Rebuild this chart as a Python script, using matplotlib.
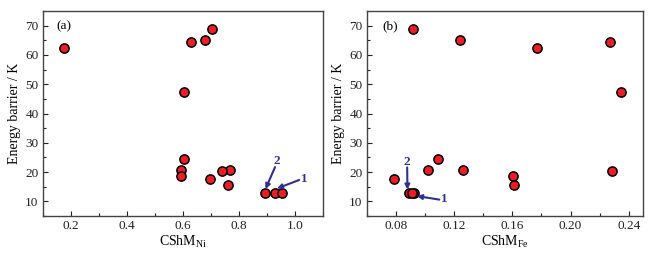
import matplotlib
matplotlib.use("Agg")
import matplotlib.pyplot as plt
from matplotlib.ticker import MultipleLocator

plt.rcParams['font.family'] = ['Liberation Serif', 'DejaVu Serif']

energy = [69.0, 65.1, 64.3, 62.3, 47.5, 24.5, 20.8, 20.6, 20.4, 18.8, 17.5, 15.6, 13.0, 12.8, 12.7]
cshm_ni = [0.703, 0.679, 0.627, 0.176, 0.604, 0.604, 0.594, 0.768, 0.739, 0.594, 0.695, 0.760, 0.892, 0.928, 0.954]
cshm_fe = [0.0917, 0.1239, 0.2273, 0.1772, 0.2345, 0.109, 0.1021, 0.1262, 0.2285, 0.1602, 0.0786, 0.1611, 0.0888, 0.0922, 0.0912]

ni_ticks = [0.2, 0.4, 0.6, 0.8, 1.0]
fe_ticks = [0.08, 0.12, 0.16, 0.20, 0.24]
y_ticks = [10, 20, 30, 40, 50, 60, 70]

W, H = 657, 258
fig = plt.figure(figsize=(W / 100, H / 100), dpi=100)

axA = fig.add_axes([42.7 / W, 1 - 216 / H, (323.3 - 42.7) / W, (216 - 11) / H])
axB = fig.add_axes([366.7 / W, 1 - 216 / H, (643.3 - 366.7) / W, (216 - 11) / H])

arrow_col = '#2e3192'
spine_col = '#444444'

def style(ax, xlim, xticks, xminor, fmt, label, sub, panel, px):
    ax.set_xlim(*xlim)
    ax.set_ylim(5, 75)
    ax.set_xticks(xticks)
    ax.set_xticklabels([fmt.format(t) for t in xticks])
    ax.xaxis.set_minor_locator(MultipleLocator(xminor))
    ax.set_yticks(y_ticks)
    ax.yaxis.set_minor_locator(MultipleLocator(5))
    ax.tick_params(axis='both', which='both', direction='in', top=False, right=False,
                   labelsize=9.5, colors='#222222', pad=3)
    ax.tick_params(which='major', length=3.5, width=0.8)
    ax.tick_params(which='minor', length=2, width=0.8)
    for s in ax.spines.values():
        s.set_color(spine_col)
        s.set_linewidth(1.0)
    ax.set_xlabel(label + r'$_{\mathregular{' + sub + '}}$', fontsize=10, labelpad=1)
    ax.set_ylabel('Energy barrier / K', fontsize=10, labelpad=3)
    ax.text(px, 0.925, panel, transform=ax.transAxes, fontsize=9.5, va='center', ha='left')

style(axA, (0.1, 1.1), ni_ticks, 0.1, '{:.1f}', 'CShM', 'Ni', '(a)', 0.048)
style(axB, (0.06, 0.25), fe_ticks, 0.02, '{:.2f}', 'CShM', 'Fe', '(b)', 0.056)

for ax, xs in ((axA, cshm_ni), (axB, cshm_fe)):
    ax.scatter(xs, energy, s=44, facecolor='#ee1c25', edgecolor='black', linewidth=1.1, zorder=3)

arrowprops = dict(arrowstyle='-|>', color=arrow_col, lw=1.5, mutation_scale=7,
                  shrinkA=0, shrinkB=0)

# Panel (a) annotations
axA.annotate('', xy=(0.894, 14.2), xytext=(0.928, 21.7), arrowprops=arrowprops, zorder=4)
axA.text(0.933, 23.8, '2', color=arrow_col, fontsize=9.5, fontweight='bold', ha='center', va='center')
axA.annotate('', xy=(0.935, 14.4), xytext=(1.014, 17.3), arrowprops=arrowprops, zorder=4)
axA.text(1.032, 17.6, '1', color=arrow_col, fontsize=9.5, fontweight='bold', ha='center', va='center')

# Panel (b) annotations
axB.annotate('', xy=(0.0880, 14.0), xytext=(0.0878, 21.6), arrowprops=arrowprops, zorder=4)
axB.text(0.0878, 23.4, '2', color=arrow_col, fontsize=9.5, fontweight='bold', ha='center', va='center')
axB.annotate('', xy=(0.0945, 11.8), xytext=(0.1099, 10.6), arrowprops=arrowprops, zorder=4)
axB.text(0.1135, 10.75, '1', color=arrow_col, fontsize=9.5, fontweight='bold', ha='center', va='center')

fig.savefig('out.png', dpi=100)
